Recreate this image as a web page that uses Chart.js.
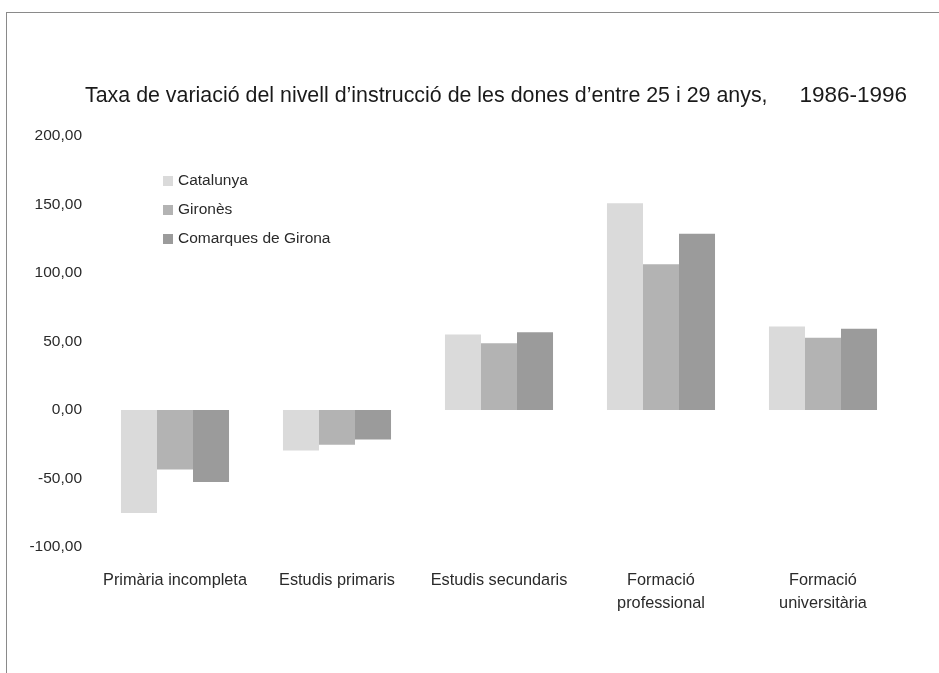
<!DOCTYPE html>
<html>
<head>
<meta charset="utf-8">
<script src="https://cdn.jsdelivr.net/npm/chart.js@4.4.1/dist/chart.umd.min.js"></script>
<style>
  html, body { margin: 0; padding: 0; background: #ffffff; }
  #wrap { position: relative; width: 939px; height: 673px; overflow: hidden; }
  #frame { position: absolute; left: 6px; top: 12px; right: -2px; bottom: -2px;
           border-top: 1px solid #8a8a8a; border-left: 1px solid #8a8a8a; }
  canvas { position: absolute; left: 0; top: 0; }
</style>
</head>
<body>
<div id="wrap">
  <div id="frame"></div>
  <canvas id="c" width="939" height="673"></canvas>
</div>
<script>
const titleMain = "Taxa de variació del nivell d’instrucció de les dones d’entre 25 i 29 anys,";
const titleYears = "1986-1996";
const categories = [
  "Primària incompleta",
  "Estudis primaris",
  "Estudis secundaris",
  ["Formació", "professional"],
  ["Formació", "universitària"]
];
const seriesNames = ["Catalunya", "Gironès", "Comarques de Girona"];
const catalunya = [-75.2, -29.6, 55.1, 151.0, 61.0];
const girones   = [-43.5, -25.4, 48.8, 106.3, 52.7];
const comarques = [-52.5, -21.5, 56.8, 128.7, 59.3];
const yTicks = [200, 150, 100, 50, 0, -50, -100];

const colors = ["#dadada", "#b3b3b3", "#9b9b9b"];
const FONT = "'Liberation Sans', Arial, sans-serif";

const titlePlugin = {
  id: 'titlePlugin',
  afterDraw(chart) {
    const ctx = chart.ctx;
    ctx.save();
    ctx.fillStyle = '#1a1a1a';
    ctx.font = "21.4px " + FONT;
    ctx.textBaseline = 'alphabetic';
    ctx.textAlign = 'left';
    ctx.fillText(titleMain, 85, 102);
    ctx.font = "22.5px " + FONT;
    ctx.textAlign = 'right';
    ctx.fillText(titleYears, 907, 102);
    ctx.restore();
  }
};

const legendPlugin = {
  id: 'legendPlugin',
  afterDraw(chart) {
    const ctx = chart.ctx;
    ctx.save();
    ctx.font = "15.5px " + FONT;
    ctx.textBaseline = 'middle';
    ctx.textAlign = 'left';
    chart.data.datasets.forEach((ds, i) => {
      const y = 181 + i * 29;
      ctx.fillStyle = ds.backgroundColor;
      ctx.fillRect(163, y - 5, 10, 10);
      ctx.fillStyle = '#2a2a2a';
      ctx.fillText(ds.label, 178, y);
    });
    ctx.restore();
  }
};

new Chart(document.getElementById('c'), {
  type: 'bar',
  data: {
    labels: categories,
    datasets: [
      { label: seriesNames[0], data: catalunya, backgroundColor: colors[0] },
      { label: seriesNames[1], data: girones,   backgroundColor: colors[1] },
      { label: seriesNames[2], data: comarques, backgroundColor: colors[2] }
    ]
  },
  options: {
    responsive: false,
    animation: false,
    devicePixelRatio: 1,
    layout: { padding: { left: 0, right: 35, top: 136, bottom: 0 } },
    datasets: { bar: { barPercentage: 1.0, categoryPercentage: 0.667, borderWidth: 0 } },
    plugins: {
      legend: { display: false },
      title: { display: false },
      tooltip: { enabled: false }
    },
    scales: {
      x: {
        grid: { display: false, drawTicks: false },
        border: { display: false },
        ticks: {
          color: '#2a2a2a',
          font: { family: FONT, size: 16.3, lineHeight: 1.4 },
          padding: 22,
          maxRotation: 0,
          autoSkip: false
        },
        afterFit(scale) { scale.height = 673 - 547; }
      },
      y: {
        min: -100,
        max: 200,
        afterBuildTicks(scale) { scale.ticks = yTicks.map(v => ({ value: v })); },
        grid: { display: false, drawTicks: false },
        border: { display: false },
        ticks: {
          color: '#2a2a2a',
          font: { family: FONT, size: 15.5 },
          padding: 12,
          callback: v => v.toFixed(2).replace('.', ',')
        },
        afterFit(scale) { scale.width = 94; }
      }
    }
  },
  plugins: [titlePlugin, legendPlugin]
});
</script>
</body>
</html>
